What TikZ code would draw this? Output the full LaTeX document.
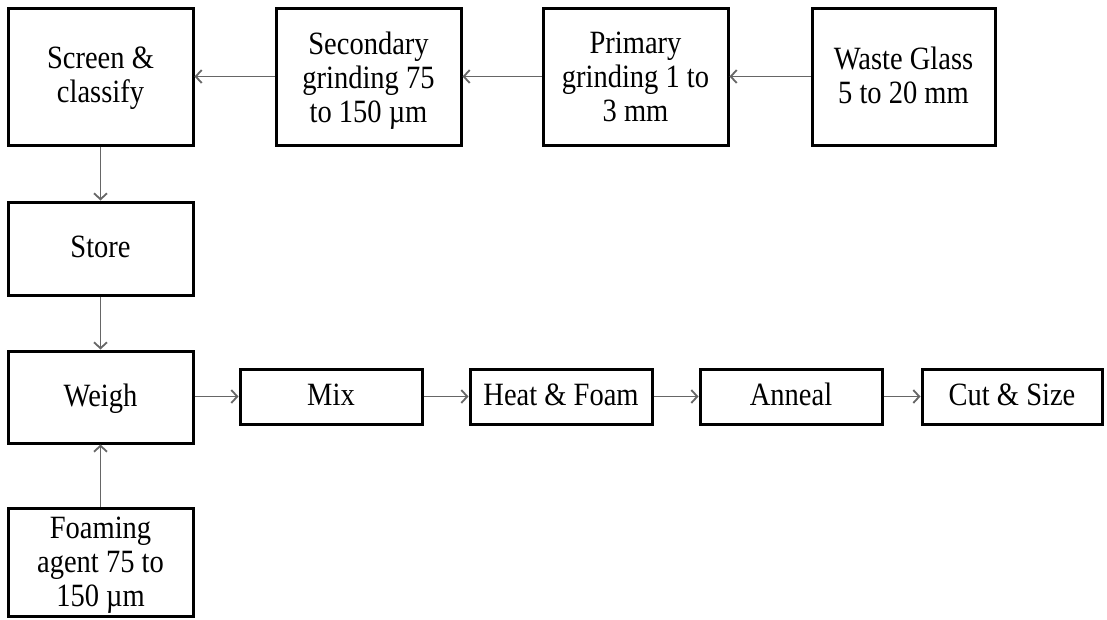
\documentclass[tikz,border=0pt]{standalone}
\usepackage{fontspec}
\setmainfont[FakeStretch=0.877]{Liberation Serif}
\usetikzlibrary{arrows.meta}
\newcommand{\ls}[1][26]{\rule[-8pt]{0pt}{\dimexpr #1pt+8pt\relax}}
\begin{document}
\begin{tikzpicture}[x=1pt,y=-1pt,
  stepbox/.style={draw=black,line width=3pt,rectangle,align=center,inner sep=0pt,
    font=\fontsize{32.5}{34}\selectfont,text=black},
  flow/.style={draw=black!60,line width=1.8pt,-{Straight Barb[length=6pt,width=13pt,line width=1.8pt]}}]
\useasboundingbox (0,0) rectangle (1107,619);
\node[stepbox,minimum width=185pt,minimum height=137pt] (screen) at (100.5,76.5) {\ls[26.5]Screen \&\\classify\ls};
\node[stepbox,minimum width=185pt,minimum height=137pt] (secondary) at (368.5,76.5) {\ls[31]Secondary\\grinding 75\\to 150 µm\ls};
\node[stepbox,minimum width=185pt,minimum height=137pt] (primary) at (635.5,76.5) {\ls[30]Primary\\grinding 1 to\\3 mm\ls};
\node[stepbox,minimum width=183pt,minimum height=137pt] (waste) at (903.5,76.5) {\ls[28]Waste Glass\\5 to 20 mm\ls};
\node[stepbox,minimum width=185pt,minimum height=93pt] (store) at (100.5,248.5) {\ls[25]Store\ls};
\node[stepbox,minimum width=185pt,minimum height=92pt] (weigh) at (100.5,397) {\ls[25]Weigh\ls};
\node[stepbox,minimum width=182pt,minimum height=55pt] (mix) at (331,396.5) {\ls[25]Mix\ls};
\node[stepbox,minimum width=182pt,minimum height=55pt] (heat) at (561,396.5) {\ls[25]Heat \& Foam\ls};
\node[stepbox,minimum width=182pt,minimum height=55pt] (anneal) at (791,396.5) {\ls[25]Anneal\ls};
\node[stepbox,minimum width=180pt,minimum height=55pt] (cut) at (1012,396.5) {\ls[25]Cut \& Size\ls};
\node[stepbox,minimum width=185pt,minimum height=108pt] (foam) at (100.5,562) {\ls[28.5]Foaming\\agent 75 to\\150 µm\ls};
\draw[flow] (waste.west) -- (primary.east);
\draw[flow] (primary.west) -- (secondary.east);
\draw[flow] (secondary.west) -- (screen.east);
\draw[flow] (screen.south) -- (store.north);
\draw[flow] (store.south) -- (weigh.north);
\draw[flow] (foam.north) -- (weigh.south);
\draw[flow] (weigh.east |- mix.west) -- (mix.west);
\draw[flow] (mix.east) -- (heat.west);
\draw[flow] (heat.east) -- (anneal.west);
\draw[flow] (anneal.east) -- (cut.west);
\end{tikzpicture}
\end{document}
